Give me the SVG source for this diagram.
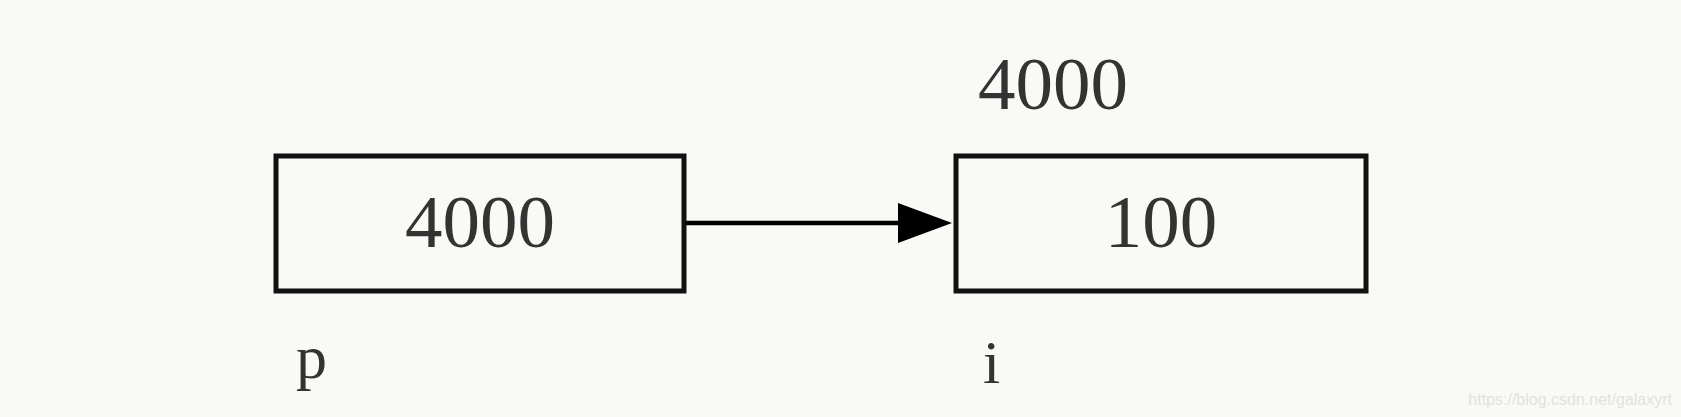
<svg xmlns="http://www.w3.org/2000/svg" width="1681" height="417" viewBox="0 0 1681 417">
<style>
.box{fill:#f9f9f5;stroke:#111;stroke-width:5}
.t{font-family:"Liberation Serif","DejaVu Serif",serif;fill:#333;font-size:75px;text-anchor:middle}
.lbl{font-family:"Liberation Serif","DejaVu Serif",serif;fill:#333;font-size:62px}
</style>
<defs>
<marker id="ah" markerUnits="userSpaceOnUse" markerWidth="56" markerHeight="42" refX="0" refY="20" orient="auto">
<path d="M0,0 L54,20 L0,40 Z" fill="#000"/>
</marker>
</defs>
<rect width="1681" height="417" fill="#f9faf6"/>
<g id="node-p">
<rect class="box" x="276" y="156" width="408" height="135"/>
<text class="t" x="480" y="247">4000</text>
<text class="lbl" x="296" y="378">p</text>
</g>
<g id="node-i">
<rect class="box" x="956" y="156" width="410" height="135"/>
<text class="t" x="1161" y="247">100</text>
<text class="t" x="1053" y="109">4000</text>
<text class="lbl" x="983" y="383">i</text>
</g>
<g id="connectors">
<line x1="686" y1="223" x2="898" y2="223" stroke="#000" stroke-width="4.5" marker-end="url(#ah)"/>
</g>
<text x="1672" y="405" text-anchor="end" font-family="'Liberation Sans',Arial,sans-serif" font-size="16" fill="#e2e2de">https://blog.csdn.net/galaxyrt</text>
</svg>
